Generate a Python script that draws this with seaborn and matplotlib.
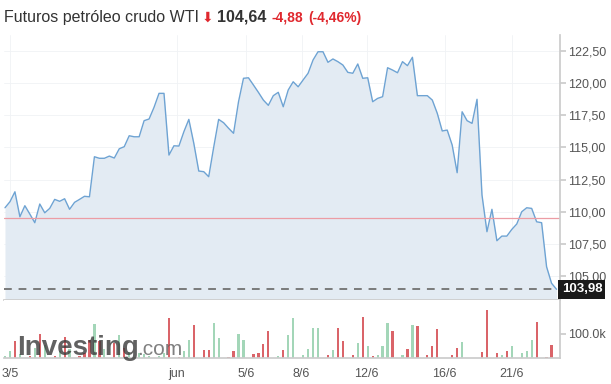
"""WTI crude futures: price area + volume bars."""

import matplotlib

matplotlib.use("Agg")
import matplotlib.pyplot as plt  # noqa: E402
import pandas as pd  # noqa: E402
import seaborn as sns  # noqa: E402

sns.set_theme(style="white")
plt.rcParams["font.family"] = ["Liberation Sans", "DejaVu Sans"]

# closing prices, one per bar
price = [
    110.31, 110.78, 111.55, 109.61, 110.47, 109.82, 109.15, 110.60, 109.92, 110.26,
    110.96, 110.81, 111.01, 110.19, 110.73, 110.96, 111.20, 111.16, 114.27, 114.15,
    114.15, 114.32, 114.17, 114.89, 115.05, 115.90, 115.82, 115.82, 117.07, 117.20,
    118.11, 119.19, 119.19, 114.40, 115.12, 115.10, 116.21, 117.17, 115.31, 113.16,
    113.11, 112.72, 115.00, 117.17, 116.91, 116.48, 116.09, 118.54, 120.36, 120.40,
    119.84, 119.27, 118.67, 118.26, 119.01, 119.27, 118.15, 119.45, 120.09, 119.70,
    120.23, 120.75, 121.78, 122.42, 122.42, 121.60, 121.86, 121.65, 121.39, 120.82,
    120.75, 121.47, 120.36, 120.40, 118.54, 118.80, 118.93, 121.18, 121.00, 120.79,
    121.65, 121.34, 121.99, 119.01, 119.01, 119.01, 118.67, 117.64, 116.27, 116.34,
    115.18, 113.03, 117.76, 117.07, 116.86, 118.73, 111.30, 108.45, 110.19, 107.75,
    108.11, 108.11, 108.63, 109.05, 110.00, 110.31, 110.26, 109.22, 109.15, 105.73,
    104.45, 103.98,
]

# volume in thousands
volume = [
    10, 30, 70, 15, 0, 8, 40, 100, 55, 0,
    10, 30, 85, 35, 0, 10, 20, 75, 140, 70,
    35, 0, 60, 92, 40, 25, 0, 20, 15, 10,
    0, 10, 20, 163, 0, 5, 30, 75, 135, 0,
    33, 33, 142, 83, 0, 5, 30, 100, 75, 0,
    17, 21, 58, 111, 0, 8, 33, 96, 163, 0,
    14, 38, 121, 121, 0, 14, 33, 121, 68, 0,
    14, 63, 167, 47, 10, 14, 47, 142, 110, 0,
    14, 38, 135, 131, 0, 14, 47, 117, 0, 2,
    14, 42, 65, 0, 0, 2, 26, 197, 0, 22,
    12, 30, 47, 0, 21, 30, 72, 146, 0, 5,
    55, 0,
]
# bar colour: u = up (green), d = down (red)
vol_dir = [
    "u", "u", "d", "u", "u", "d", "u", "d", "u", "u",
    "d", "u", "d", "u", "u", "d", "d", "d", "u", "d",
    "u", "u", "d", "u", "d", "u", "u", "u", "u", "u",
    "u", "u", "u", "d", "u", "d", "u", "u", "d", "u",
    "d", "d", "u", "u", "u", "d", "d", "u", "u", "u",
    "d", "d", "d", "d", "u", "u", "d", "u", "u", "u",
    "u", "u", "u", "u", "u", "d", "u", "d", "d", "u",
    "d", "u", "d", "u", "d", "u", "u", "u", "d", "u",
    "u", "d", "u", "d", "u", "d", "d", "d", "u", "u",
    "d", "d", "u", "u", "u", "u", "d", "d", "u", "d",
    "u", "d", "u", "u", "u", "u", "u", "d", "u", "d",
    "d", "u",
]

tick_pos = [1, 34.6, 48.5, 59.7, 72.8, 88.5, 102]
tick_labels = ["3/5", "jun", "5/6", "8/6", "12/6", "16/6", "21/6"]
price_ticks = [105.0, 107.5, 110.0, 112.5, 115.0, 117.5, 120.0, 122.5]

prev_close = 109.52
last_price = 103.98

df = pd.DataFrame({"i": range(len(price)), "price": price})
vdf = pd.DataFrame({"i": range(len(volume)), "vol": [v * 1000 for v in volume],
                    "dir": vol_dir})

W, H = 611, 384
fig = plt.figure(figsize=(W / 100, H / 100), dpi=100)
ax = fig.add_axes([4 / W, 1 - 300 / H, 556 / W, 265 / H])
axv = fig.add_axes([4 / W, 1 - 358 / H, 556 / W, 58 / H])

xlim = (-0.2, 111.7)
grid_c = "#f0f2f5"
ylo, yhi = 103.15, 123.72

# price panel
ax.fill_between(df["i"], df["price"], 100, color="#e3ebf3", lw=0)
sns.lineplot(data=df, x="i", y="price", ax=ax, color="#6ea3d3", lw=1.0)
ax.axhline(prev_close, color="#ec9ca4", lw=0.9)
ax.axhline(last_price, color="#7a7a7a", lw=1.4, ls=(0, (4, 3.5)))
ax.set_xlim(*xlim)
ax.set_ylim(ylo, yhi)
ax.set_yticks(price_ticks)
ax.set_yticklabels([f"{t:.2f}".replace(".", ",") for t in price_ticks])
ax.yaxis.tick_right()
ax.tick_params(axis="y", length=4, color="#cccccc", labelsize=9, labelcolor="#555555", pad=2)
ax.set_xticks(tick_pos)
ax.tick_params(axis="x", length=0, labelbottom=False)
for t in price_ticks:
    ax.axhline(t, color=grid_c, lw=0.6, zorder=0)
for t in tick_pos:
    ax.axvline(t, color=grid_c, lw=0.6, zorder=0)
for s in ["top", "left"]:
    ax.spines[s].set_visible(False)
ax.spines["right"].set_color("#cccccc")
ax.spines["bottom"].set_color("#cccccc")
ax.set_xlabel("")
ax.set_ylabel("")
ax.text(1.003, (last_price - ylo) / (yhi - ylo), "103,98", transform=ax.transAxes,
        ha="left", va="center", fontsize=9.5, fontweight="bold", color="white",
        bbox=dict(boxstyle="square,pad=0.25", fc="#1a1a1a", ec="none"))

# volume panel
sns.barplot(data=vdf, x="i", y="vol", hue="dir", palette={"u": "#a3d6b8", "d": "#da6469"},
            dodge=False, width=0.45, linewidth=0, saturation=1, legend=False, ax=axv)
axv.set_xlim(*xlim)
axv.set_ylim(0, 237000)
axv.set_yticks([100000])
axv.set_yticklabels(["100.0k"])
axv.yaxis.tick_right()
axv.tick_params(axis="y", length=4, color="#cccccc", labelsize=9, labelcolor="#555555", pad=2)
axv.set_xticks(tick_pos)
axv.set_xticklabels(tick_labels)
axv.tick_params(axis="x", length=4, color="#cccccc", labelsize=9, labelcolor="#555555", pad=3)
axv.spines["top"].set_visible(False)
axv.spines["left"].set_visible(False)
axv.spines["right"].set_color("#cccccc")
axv.spines["bottom"].set_color("#cccccc")
axv.set_xlabel("")
axv.set_ylabel("")

# watermark
fig.text(17 / W, 1 - 355 / H, "Investing", fontsize=20, fontweight="bold", color="#3a3a3a",
         alpha=0.8, ha="left", va="baseline")
fig.text(137 / W, 1 - 355 / H, ".com", fontsize=15, color="#555555", alpha=0.75,
         ha="left", va="baseline")

# header
base = 1 - 22 / H
fig.text(4 / W, base, "Futuros petróleo crudo WTI", fontsize=11.5, color="#333333",
         ha="left", va="baseline")
fig.text(202 / W, base, "\u2b07", fontsize=10, color="#e0282e", ha="left", va="baseline",
         family=["DejaVu Sans"])
fig.text(217 / W, base, "104,64", fontsize=11.5, fontweight="bold", color="#333333",
         ha="left", va="baseline")
fig.text(272 / W, base, "-4,88", fontsize=10, fontweight="bold", color="#e0282e",
         ha="left", va="baseline")
fig.text(308 / W, base, "(-4,46%)", fontsize=10, fontweight="bold", color="#e0282e",
         ha="left", va="baseline")

fig.savefig("out.png", dpi=100)
plt.close(fig)
